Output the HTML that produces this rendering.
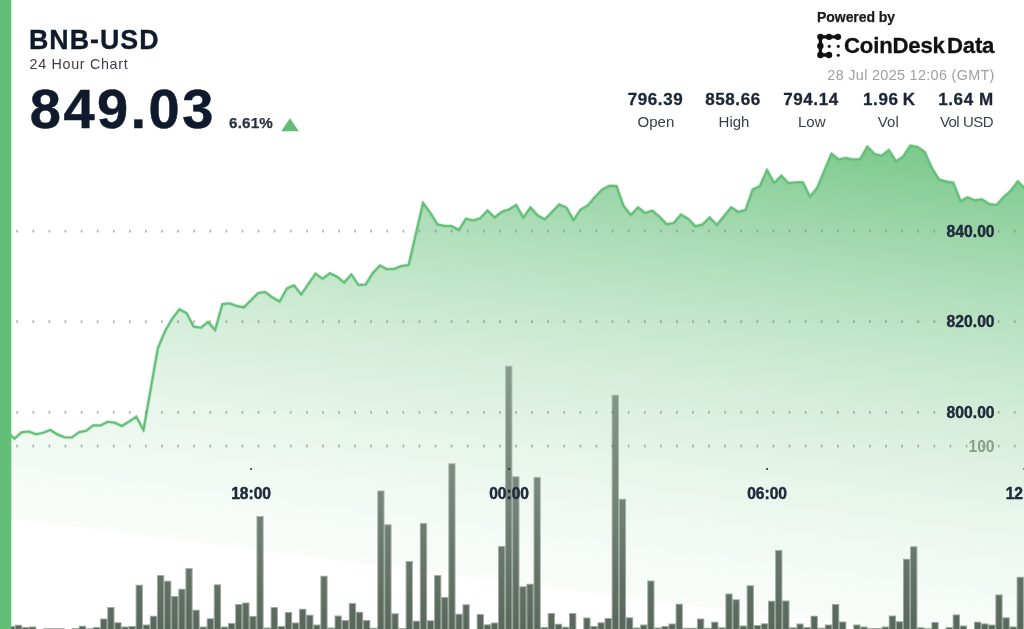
<!DOCTYPE html>
<html>
<head>
<meta charset="utf-8">
<title>BNB-USD 24 Hour Chart</title>
<style>
html,body{margin:0;padding:0;}
body{width:1024px;height:629px;overflow:hidden;background:#fff;position:relative;font-family:"Liberation Sans",sans-serif;color:#0f1b2d;}
#chart{position:absolute;left:0;top:0;width:1024px;height:629px;}
.t{position:absolute;white-space:nowrap;line-height:1;}
#title{left:29px;top:27.2px;font-size:26.8px;font-weight:bold;letter-spacing:1.0px;-webkit-text-stroke:0.35px #0f1b2d;}
#sub{left:29.5px;top:57px;font-size:14.3px;letter-spacing:0.7px;color:#3a3f46;}
#price{left:29.8px;top:80.9px;font-size:56px;font-weight:bold;letter-spacing:2.45px;-webkit-text-stroke:0.5px #0f1b2d;}
#pct{left:229px;top:115.2px;font-size:15.2px;font-weight:bold;letter-spacing:0.2px;color:#2a3140;-webkit-text-stroke:0.25px #2a3140;}
#pow{left:817px;top:9.6px;font-size:14px;font-weight:bold;color:#1c1c1c;-webkit-text-stroke:0.25px #1c1c1c;letter-spacing:-0.05px;}
#brand{left:844px;top:35px;font-size:22.2px;font-weight:bold;color:#111;letter-spacing:-0.2px;-webkit-text-stroke:0.3px #111;}
#brand span{margin-left:2.2px;}
#date{right:29.3px;top:67.6px;font-size:14.4px;letter-spacing:0.32px;color:#a0a0a0;}
.sv{font-size:17px;font-weight:bold;letter-spacing:0.6px;top:91.2px;transform:translateX(-50%);color:#1b2536;-webkit-text-stroke:0.3px #1b2536;}
.sl{font-size:15px;top:114.2px;transform:translateX(-50%);color:#3a3f46;}
</style>
</head>
<body><div id="wrap" style="position:absolute;left:0;top:0;width:1024px;height:629px;will-change:transform;">
<svg id="chart" width="1024" height="629" viewBox="0 0 1024 629">
  <defs>
    <linearGradient id="g" gradientUnits="userSpaceOnUse" x1="905" y1="140" x2="842.03" y2="631.94"><stop offset="0.0000" stop-color="#62be76" stop-opacity="0.820"/><stop offset="0.0400" stop-color="#62be76" stop-opacity="0.804"/><stop offset="0.0800" stop-color="#62be76" stop-opacity="0.751"/><stop offset="0.1200" stop-color="#62be76" stop-opacity="0.700"/><stop offset="0.1600" stop-color="#62be76" stop-opacity="0.651"/><stop offset="0.2000" stop-color="#62be76" stop-opacity="0.604"/><stop offset="0.2400" stop-color="#62be76" stop-opacity="0.558"/><stop offset="0.2800" stop-color="#62be76" stop-opacity="0.514"/><stop offset="0.3200" stop-color="#62be76" stop-opacity="0.473"/><stop offset="0.3600" stop-color="#62be76" stop-opacity="0.432"/><stop offset="0.4000" stop-color="#62be76" stop-opacity="0.394"/><stop offset="0.4400" stop-color="#62be76" stop-opacity="0.357"/><stop offset="0.4800" stop-color="#62be76" stop-opacity="0.323"/><stop offset="0.5200" stop-color="#62be76" stop-opacity="0.289"/><stop offset="0.5600" stop-color="#62be76" stop-opacity="0.258"/><stop offset="0.6000" stop-color="#62be76" stop-opacity="0.229"/><stop offset="0.6400" stop-color="#62be76" stop-opacity="0.201"/><stop offset="0.6800" stop-color="#62be76" stop-opacity="0.175"/><stop offset="0.7200" stop-color="#62be76" stop-opacity="0.151"/><stop offset="0.7600" stop-color="#62be76" stop-opacity="0.129"/><stop offset="0.8000" stop-color="#62be76" stop-opacity="0.108"/><stop offset="0.8400" stop-color="#62be76" stop-opacity="0.089"/><stop offset="0.8800" stop-color="#62be76" stop-opacity="0.072"/><stop offset="0.9200" stop-color="#62be76" stop-opacity="0.057"/><stop offset="0.9600" stop-color="#62be76" stop-opacity="0.044"/><stop offset="0.9860" stop-color="#62be76" stop-opacity="0.036"/><stop offset="0.9860" stop-color="#62be76" stop-opacity="0.000"/><stop offset="1.0000" stop-color="#62be76" stop-opacity="0.000"/></linearGradient>
    <linearGradient id="bg1" gradientUnits="userSpaceOnUse" x1="0" y1="360" x2="0" y2="629"><stop offset="0" stop-color="#3c4e40" stop-opacity="0.294"/><stop offset="1" stop-color="#3c4e40" stop-opacity="0.498"/></linearGradient>
    <linearGradient id="bg2" gradientUnits="userSpaceOnUse" x1="0" y1="360" x2="0" y2="629"><stop offset="0" stop-color="#3c4e40" stop-opacity="0.30"/><stop offset="0.5" stop-color="#3c4e40" stop-opacity="0.47"/><stop offset="1" stop-color="#3c4e40" stop-opacity="0.71"/></linearGradient>
    <clipPath id="cp"><rect x="11" y="0" width="1013" height="629"/></clipPath>
  </defs>
  <g clip-path="url(#cp)">
    <path d="M7.33 432.5 L14.5 438.6 L21.67 432.2 L28.83 431.5 L36 434.25 L43.17 432.75 L50.33 430 L57.5 434.5 L64.67 437.25 L71.83 437.5 L79 432.25 L86.17 430.75 L93.33 425.25 L100.5 425.5 L107.67 421.75 L114.83 422.75 L122 426 L129.17 421.4 L136.33 416.75 L143.5 430 L150.67 389 L157.83 348.25 L165 331.25 L172.17 318.75 L179.33 309.25 L186.5 313 L193.67 326.5 L200.83 327.75 L208 322 L215.17 330 L222.33 304.25 L229.5 303.25 L236.67 306 L243.83 307.3 L251 300.25 L258.17 293 L265.33 292 L272.5 297.5 L279.67 301.5 L286.83 288.5 L294 285.25 L301.17 294.5 L308.33 284 L315.5 273.75 L322.67 278.75 L329.83 273.25 L337 276.75 L344.17 282.5 L351.33 274.5 L358.5 285 L365.67 284.5 L372.83 273 L380 265.5 L387.17 269.25 L394.34 268.75 L401.5 266 L408.67 265 L415.84 234 L423 203 L430.17 212.5 L437.34 224.25 L444.5 226 L451.67 226 L458.84 230 L466 218.75 L473.17 220.5 L480.34 218.2 L487.5 210.5 L494.67 217.5 L501.84 211.75 L509 209.5 L516.17 205 L523.34 217.5 L530.5 207.5 L537.67 215.5 L544.84 219.5 L552 212 L559.17 204.5 L566.34 207.5 L573.5 220 L580.67 209.5 L587.84 205.5 L595 197 L602.17 189.5 L609.34 185.75 L616.5 186 L623.67 206.25 L630.84 215 L638 207.5 L645.17 213 L652.34 210.75 L659.5 216.75 L666.67 224.25 L673.84 223 L681 214.5 L688.17 218.75 L695.34 226.25 L702.5 224.5 L709.67 217.5 L716.84 225 L724 216.25 L731.17 207.3 L738.34 212 L745.5 210 L752.67 189.5 L759.84 186.25 L767 170 L774.17 183 L781.34 175.75 L788.5 183.25 L795.67 182.25 L802.84 182.25 L810 196.75 L817.17 188 L824.34 170.75 L831.5 153.75 L838.67 159.5 L845.84 158 L853 159.5 L860.17 159 L867.34 146.75 L874.5 154 L881.67 155.75 L888.84 150 L896 161.3 L903.17 156.5 L910.34 145.6 L917.5 147.1 L924.67 152 L931.84 168 L939 179.6 L946.17 181.6 L953.34 182.7 L960.5 201.1 L967.67 197.3 L974.84 200.4 L982 199.3 L989.17 204.1 L996.34 205.1 L1003.5 197.2 L1010.67 190.9 L1017.84 181.3 L1025 188.5 L1025 640 L7.33 640 Z" fill="url(#g)"/>
    <path d="M7.33 432.5 L14.5 438.6 L21.67 432.2 L28.83 431.5 L36 434.25 L43.17 432.75 L50.33 430 L57.5 434.5 L64.67 437.25 L71.83 437.5 L79 432.25 L86.17 430.75 L93.33 425.25 L100.5 425.5 L107.67 421.75 L114.83 422.75 L122 426 L129.17 421.4 L136.33 416.75 L143.5 430 L150.67 389 L157.83 348.25 L165 331.25 L172.17 318.75 L179.33 309.25 L186.5 313 L193.67 326.5 L200.83 327.75 L208 322 L215.17 330 L222.33 304.25 L229.5 303.25 L236.67 306 L243.83 307.3 L251 300.25 L258.17 293 L265.33 292 L272.5 297.5 L279.67 301.5 L286.83 288.5 L294 285.25 L301.17 294.5 L308.33 284 L315.5 273.75 L322.67 278.75 L329.83 273.25 L337 276.75 L344.17 282.5 L351.33 274.5 L358.5 285 L365.67 284.5 L372.83 273 L380 265.5 L387.17 269.25 L394.34 268.75 L401.5 266 L408.67 265 L415.84 234 L423 203 L430.17 212.5 L437.34 224.25 L444.5 226 L451.67 226 L458.84 230 L466 218.75 L473.17 220.5 L480.34 218.2 L487.5 210.5 L494.67 217.5 L501.84 211.75 L509 209.5 L516.17 205 L523.34 217.5 L530.5 207.5 L537.67 215.5 L544.84 219.5 L552 212 L559.17 204.5 L566.34 207.5 L573.5 220 L580.67 209.5 L587.84 205.5 L595 197 L602.17 189.5 L609.34 185.75 L616.5 186 L623.67 206.25 L630.84 215 L638 207.5 L645.17 213 L652.34 210.75 L659.5 216.75 L666.67 224.25 L673.84 223 L681 214.5 L688.17 218.75 L695.34 226.25 L702.5 224.5 L709.67 217.5 L716.84 225 L724 216.25 L731.17 207.3 L738.34 212 L745.5 210 L752.67 189.5 L759.84 186.25 L767 170 L774.17 183 L781.34 175.75 L788.5 183.25 L795.67 182.25 L802.84 182.25 L810 196.75 L817.17 188 L824.34 170.75 L831.5 153.75 L838.67 159.5 L845.84 158 L853 159.5 L860.17 159 L867.34 146.75 L874.5 154 L881.67 155.75 L888.84 150 L896 161.3 L903.17 156.5 L910.34 145.6 L917.5 147.1 L924.67 152 L931.84 168 L939 179.6 L946.17 181.6 L953.34 182.7 L960.5 201.1 L967.67 197.3 L974.84 200.4 L982 199.3 L989.17 204.1 L996.34 205.1 L1003.5 197.2 L1010.67 190.9 L1017.84 181.3 L1025 188.5" fill="none" stroke="#62bd76" stroke-width="3.6" stroke-linejoin="round" stroke-opacity="0.32"/>
    <path d="M7.33 432.5 L14.5 438.6 L21.67 432.2 L28.83 431.5 L36 434.25 L43.17 432.75 L50.33 430 L57.5 434.5 L64.67 437.25 L71.83 437.5 L79 432.25 L86.17 430.75 L93.33 425.25 L100.5 425.5 L107.67 421.75 L114.83 422.75 L122 426 L129.17 421.4 L136.33 416.75 L143.5 430 L150.67 389 L157.83 348.25 L165 331.25 L172.17 318.75 L179.33 309.25 L186.5 313 L193.67 326.5 L200.83 327.75 L208 322 L215.17 330 L222.33 304.25 L229.5 303.25 L236.67 306 L243.83 307.3 L251 300.25 L258.17 293 L265.33 292 L272.5 297.5 L279.67 301.5 L286.83 288.5 L294 285.25 L301.17 294.5 L308.33 284 L315.5 273.75 L322.67 278.75 L329.83 273.25 L337 276.75 L344.17 282.5 L351.33 274.5 L358.5 285 L365.67 284.5 L372.83 273 L380 265.5 L387.17 269.25 L394.34 268.75 L401.5 266 L408.67 265 L415.84 234 L423 203 L430.17 212.5 L437.34 224.25 L444.5 226 L451.67 226 L458.84 230 L466 218.75 L473.17 220.5 L480.34 218.2 L487.5 210.5 L494.67 217.5 L501.84 211.75 L509 209.5 L516.17 205 L523.34 217.5 L530.5 207.5 L537.67 215.5 L544.84 219.5 L552 212 L559.17 204.5 L566.34 207.5 L573.5 220 L580.67 209.5 L587.84 205.5 L595 197 L602.17 189.5 L609.34 185.75 L616.5 186 L623.67 206.25 L630.84 215 L638 207.5 L645.17 213 L652.34 210.75 L659.5 216.75 L666.67 224.25 L673.84 223 L681 214.5 L688.17 218.75 L695.34 226.25 L702.5 224.5 L709.67 217.5 L716.84 225 L724 216.25 L731.17 207.3 L738.34 212 L745.5 210 L752.67 189.5 L759.84 186.25 L767 170 L774.17 183 L781.34 175.75 L788.5 183.25 L795.67 182.25 L802.84 182.25 L810 196.75 L817.17 188 L824.34 170.75 L831.5 153.75 L838.67 159.5 L845.84 158 L853 159.5 L860.17 159 L867.34 146.75 L874.5 154 L881.67 155.75 L888.84 150 L896 161.3 L903.17 156.5 L910.34 145.6 L917.5 147.1 L924.67 152 L931.84 168 L939 179.6 L946.17 181.6 L953.34 182.7 L960.5 201.1 L967.67 197.3 L974.84 200.4 L982 199.3 L989.17 204.1 L996.34 205.1 L1003.5 197.2 L1010.67 190.9 L1017.84 181.3 L1025 188.5" fill="none" stroke="#64c079" stroke-width="2.1" stroke-linejoin="miter"/>
    <g stroke="#79837c" stroke-width="2.8" stroke-dasharray="1.7 14.39" fill="none" opacity="0.58">
      <path d="M16.35 231.1H1024"/>
      <path d="M16.35 321.6H1024"/>
      <path d="M16.35 412.4H1024"/>
      <path d="M16.35 446.1H1024"/>
    </g>
    <g>
<g fill="url(#bg1)">
<rect x="7.73" y="626" width="7.3" height="13.5"/>
<rect x="14.84" y="624.75" width="7.3" height="14.75"/>
<rect x="21.95" y="627" width="7.3" height="12.5"/>
<rect x="29.05" y="626.5" width="7.3" height="13"/>
<rect x="43.26" y="628.1" width="7.3" height="11.4"/>
<rect x="50.37" y="628.1" width="7.3" height="11.4"/>
<rect x="57.47" y="628.1" width="7.3" height="11.4"/>
<rect x="71.68" y="628" width="7.3" height="11.5"/>
<rect x="78.78" y="625.75" width="7.3" height="13.75"/>
<rect x="85.89" y="628.2" width="7.3" height="11.3"/>
<rect x="92.99" y="627" width="7.3" height="12.5"/>
<rect x="100.1" y="618.5" width="7.3" height="21"/>
<rect x="107.2" y="607" width="7.3" height="32.5"/>
<rect x="114.31" y="622.25" width="7.3" height="17.25"/>
<rect x="121.41" y="626.5" width="7.3" height="13"/>
<rect x="128.52" y="626" width="7.3" height="13.5"/>
<rect x="135.62" y="584.75" width="7.3" height="54.75"/>
<rect x="142.73" y="624.5" width="7.3" height="15"/>
<rect x="149.84" y="615.75" width="7.3" height="23.75"/>
<rect x="156.94" y="575" width="7.3" height="64.5"/>
<rect x="164.05" y="580.75" width="7.3" height="58.75"/>
<rect x="171.15" y="596" width="7.3" height="43.5"/>
<rect x="178.26" y="588.75" width="7.3" height="50.75"/>
<rect x="185.36" y="568" width="7.3" height="71.5"/>
<rect x="192.47" y="609.75" width="7.3" height="29.75"/>
<rect x="199.57" y="626.5" width="7.3" height="13"/>
<rect x="206.68" y="618.25" width="7.3" height="21.25"/>
<rect x="213.78" y="584.25" width="7.3" height="55.25"/>
<rect x="220.89" y="626.5" width="7.3" height="13"/>
<rect x="227.99" y="623" width="7.3" height="16.5"/>
<rect x="235.1" y="604" width="7.3" height="35.5"/>
<rect x="242.2" y="602.5" width="7.3" height="37"/>
<rect x="249.31" y="615.9" width="7.3" height="23.6"/>
<rect x="256.41" y="516" width="7.3" height="123.5"/>
<rect x="263.52" y="627.5" width="7.3" height="12"/>
<rect x="270.62" y="607" width="7.3" height="32.5"/>
<rect x="277.73" y="626" width="7.3" height="13.5"/>
<rect x="284.83" y="612" width="7.3" height="27.5"/>
<rect x="291.94" y="622.5" width="7.3" height="17"/>
<rect x="299.04" y="608.75" width="7.3" height="30.75"/>
<rect x="306.15" y="614.75" width="7.3" height="24.75"/>
<rect x="313.25" y="624.5" width="7.3" height="15"/>
<rect x="320.36" y="575.75" width="7.3" height="63.75"/>
<rect x="327.46" y="627.5" width="7.3" height="12"/>
<rect x="334.57" y="615.5" width="7.3" height="24"/>
<rect x="341.67" y="620" width="7.3" height="19.5"/>
<rect x="348.78" y="603" width="7.3" height="36.5"/>
<rect x="355.88" y="611.75" width="7.3" height="27.75"/>
<rect x="362.99" y="620" width="7.3" height="19.5"/>
<rect x="370.09" y="627.75" width="7.3" height="11.75"/>
<rect x="377.2" y="490.5" width="7.3" height="149"/>
<rect x="384.3" y="524.25" width="7.3" height="115.25"/>
<rect x="391.41" y="613.25" width="7.3" height="26.25"/>
<rect x="398.51" y="628" width="7.3" height="11.5"/>
<rect x="405.62" y="561" width="7.3" height="78.5"/>
<rect x="412.72" y="620.75" width="7.3" height="18.75"/>
<rect x="419.83" y="523" width="7.3" height="116.5"/>
<rect x="426.93" y="620.25" width="7.3" height="19.25"/>
<rect x="434.04" y="575" width="7.3" height="64.5"/>
<rect x="441.14" y="597" width="7.3" height="42.5"/>
<rect x="448.25" y="463.25" width="7.3" height="176.25"/>
<rect x="455.35" y="613.75" width="7.3" height="25.75"/>
<rect x="462.46" y="604.25" width="7.3" height="35.25"/>
<rect x="476.67" y="614" width="7.3" height="25.5"/>
<rect x="483.77" y="624.25" width="7.3" height="15.25"/>
<rect x="490.88" y="622.5" width="7.3" height="17"/>
<rect x="497.98" y="546" width="7.3" height="93.5"/>
<rect x="505.09" y="365.75" width="7.3" height="273.75"/>
<rect x="512.19" y="476.25" width="7.3" height="163.25"/>
<rect x="519.3" y="586.25" width="7.3" height="53.25"/>
<rect x="526.4" y="583.75" width="7.3" height="55.75"/>
<rect x="533.51" y="476.9" width="7.3" height="162.6"/>
<rect x="540.61" y="627" width="7.3" height="12.5"/>
<rect x="547.72" y="613" width="7.3" height="26.5"/>
<rect x="554.82" y="623.75" width="7.3" height="15.75"/>
<rect x="561.93" y="626.75" width="7.3" height="12.75"/>
<rect x="569.03" y="613" width="7.3" height="26.5"/>
<rect x="583.24" y="617.5" width="7.3" height="22"/>
<rect x="590.35" y="626" width="7.3" height="13.5"/>
<rect x="597.45" y="622.25" width="7.3" height="17.25"/>
<rect x="604.56" y="618" width="7.3" height="21.5"/>
<rect x="611.66" y="394.75" width="7.3" height="244.75"/>
<rect x="618.77" y="498.75" width="7.3" height="140.75"/>
<rect x="625.87" y="617.25" width="7.3" height="22.25"/>
<rect x="632.98" y="627.5" width="7.3" height="12"/>
<rect x="640.08" y="624.5" width="7.3" height="15"/>
<rect x="647.19" y="580.5" width="7.3" height="59"/>
<rect x="654.29" y="627.5" width="7.3" height="12"/>
<rect x="661.4" y="626" width="7.3" height="13.5"/>
<rect x="668.5" y="623.5" width="7.3" height="16"/>
<rect x="675.61" y="603.75" width="7.3" height="35.75"/>
<rect x="682.71" y="627.75" width="7.3" height="11.75"/>
<rect x="689.82" y="627.75" width="7.3" height="11.75"/>
<rect x="696.92" y="618.5" width="7.3" height="21"/>
<rect x="704.03" y="627.75" width="7.3" height="11.75"/>
<rect x="711.13" y="621.75" width="7.3" height="17.75"/>
<rect x="718.24" y="627.25" width="7.3" height="12.25"/>
<rect x="725.34" y="593.5" width="7.3" height="46"/>
<rect x="732.45" y="599.25" width="7.3" height="40.25"/>
<rect x="739.55" y="625.5" width="7.3" height="14"/>
<rect x="746.66" y="585.25" width="7.3" height="54.25"/>
<rect x="753.76" y="625" width="7.3" height="14.5"/>
<rect x="760.87" y="623.25" width="7.3" height="16.25"/>
<rect x="767.97" y="600.75" width="7.3" height="38.75"/>
<rect x="775.08" y="550" width="7.3" height="89.5"/>
<rect x="782.18" y="600.5" width="7.3" height="39"/>
<rect x="789.29" y="627.25" width="7.3" height="12.25"/>
<rect x="796.39" y="623.5" width="7.3" height="16"/>
<rect x="803.5" y="627" width="7.3" height="12.5"/>
<rect x="810.6" y="615.75" width="7.3" height="23.75"/>
<rect x="817.71" y="627.75" width="7.3" height="11.75"/>
<rect x="824.81" y="624.5" width="7.3" height="15"/>
<rect x="831.92" y="604" width="7.3" height="35.5"/>
<rect x="839.02" y="621.5" width="7.3" height="18"/>
<rect x="853.23" y="624.5" width="7.3" height="15"/>
<rect x="860.34" y="626.5" width="7.3" height="13"/>
<rect x="867.44" y="628" width="7.3" height="11.5"/>
<rect x="874.55" y="628" width="7.3" height="11.5"/>
<rect x="881.65" y="626.5" width="7.3" height="13"/>
<rect x="888.76" y="615.5" width="7.3" height="24"/>
<rect x="895.86" y="621.2" width="7.3" height="18.3"/>
<rect x="902.97" y="558.8" width="7.3" height="80.7"/>
<rect x="910.07" y="546.25" width="7.3" height="93.25"/>
<rect x="917.18" y="627.2" width="7.3" height="12.3"/>
<rect x="924.28" y="628.1" width="7.3" height="11.4"/>
<rect x="931.39" y="622" width="7.3" height="17.5"/>
<rect x="945.6" y="627.1" width="7.3" height="12.4"/>
<rect x="952.7" y="614.4" width="7.3" height="25.1"/>
<rect x="959.81" y="625.5" width="7.3" height="14"/>
<rect x="974.02" y="621.7" width="7.3" height="17.8"/>
<rect x="981.12" y="623.4" width="7.3" height="16.1"/>
<rect x="988.23" y="624.6" width="7.3" height="14.9"/>
<rect x="995.33" y="594.5" width="7.3" height="45"/>
<rect x="1002.44" y="617.3" width="7.3" height="22.2"/>
<rect x="1009.54" y="626.4" width="7.3" height="13.1"/>
<rect x="1016.65" y="576.8" width="7.3" height="62.7"/>
</g>
<g fill="url(#bg2)">
<rect x="8.73" y="627" width="5.3" height="13.5"/>
<rect x="15.84" y="625.75" width="5.3" height="14.75"/>
<rect x="22.95" y="628" width="5.3" height="12.5"/>
<rect x="30.05" y="627.5" width="5.3" height="13"/>
<rect x="44.26" y="629.1" width="5.3" height="11.4"/>
<rect x="51.37" y="629.1" width="5.3" height="11.4"/>
<rect x="58.47" y="629.1" width="5.3" height="11.4"/>
<rect x="72.68" y="629" width="5.3" height="11.5"/>
<rect x="79.78" y="626.75" width="5.3" height="13.75"/>
<rect x="86.89" y="629.2" width="5.3" height="11.3"/>
<rect x="93.99" y="628" width="5.3" height="12.5"/>
<rect x="101.1" y="619.5" width="5.3" height="21"/>
<rect x="108.2" y="608" width="5.3" height="32.5"/>
<rect x="115.31" y="623.25" width="5.3" height="17.25"/>
<rect x="122.41" y="627.5" width="5.3" height="13"/>
<rect x="129.52" y="627" width="5.3" height="13.5"/>
<rect x="136.62" y="585.75" width="5.3" height="54.75"/>
<rect x="143.73" y="625.5" width="5.3" height="15"/>
<rect x="150.84" y="616.75" width="5.3" height="23.75"/>
<rect x="157.94" y="576" width="5.3" height="64.5"/>
<rect x="165.05" y="581.75" width="5.3" height="58.75"/>
<rect x="172.15" y="597" width="5.3" height="43.5"/>
<rect x="179.26" y="589.75" width="5.3" height="50.75"/>
<rect x="186.36" y="569" width="5.3" height="71.5"/>
<rect x="193.47" y="610.75" width="5.3" height="29.75"/>
<rect x="200.57" y="627.5" width="5.3" height="13"/>
<rect x="207.68" y="619.25" width="5.3" height="21.25"/>
<rect x="214.78" y="585.25" width="5.3" height="55.25"/>
<rect x="221.89" y="627.5" width="5.3" height="13"/>
<rect x="228.99" y="624" width="5.3" height="16.5"/>
<rect x="236.1" y="605" width="5.3" height="35.5"/>
<rect x="243.2" y="603.5" width="5.3" height="37"/>
<rect x="250.31" y="616.9" width="5.3" height="23.6"/>
<rect x="257.41" y="517" width="5.3" height="123.5"/>
<rect x="264.52" y="628.5" width="5.3" height="12"/>
<rect x="271.62" y="608" width="5.3" height="32.5"/>
<rect x="278.73" y="627" width="5.3" height="13.5"/>
<rect x="285.83" y="613" width="5.3" height="27.5"/>
<rect x="292.94" y="623.5" width="5.3" height="17"/>
<rect x="300.04" y="609.75" width="5.3" height="30.75"/>
<rect x="307.15" y="615.75" width="5.3" height="24.75"/>
<rect x="314.25" y="625.5" width="5.3" height="15"/>
<rect x="321.36" y="576.75" width="5.3" height="63.75"/>
<rect x="328.46" y="628.5" width="5.3" height="12"/>
<rect x="335.57" y="616.5" width="5.3" height="24"/>
<rect x="342.67" y="621" width="5.3" height="19.5"/>
<rect x="349.78" y="604" width="5.3" height="36.5"/>
<rect x="356.88" y="612.75" width="5.3" height="27.75"/>
<rect x="363.99" y="621" width="5.3" height="19.5"/>
<rect x="371.09" y="628.75" width="5.3" height="11.75"/>
<rect x="378.2" y="491.5" width="5.3" height="149"/>
<rect x="385.3" y="525.25" width="5.3" height="115.25"/>
<rect x="392.41" y="614.25" width="5.3" height="26.25"/>
<rect x="399.51" y="629" width="5.3" height="11.5"/>
<rect x="406.62" y="562" width="5.3" height="78.5"/>
<rect x="413.72" y="621.75" width="5.3" height="18.75"/>
<rect x="420.83" y="524" width="5.3" height="116.5"/>
<rect x="427.93" y="621.25" width="5.3" height="19.25"/>
<rect x="435.04" y="576" width="5.3" height="64.5"/>
<rect x="442.14" y="598" width="5.3" height="42.5"/>
<rect x="449.25" y="464.25" width="5.3" height="176.25"/>
<rect x="456.35" y="614.75" width="5.3" height="25.75"/>
<rect x="463.46" y="605.25" width="5.3" height="35.25"/>
<rect x="477.67" y="615" width="5.3" height="25.5"/>
<rect x="484.77" y="625.25" width="5.3" height="15.25"/>
<rect x="491.88" y="623.5" width="5.3" height="17"/>
<rect x="498.98" y="547" width="5.3" height="93.5"/>
<rect x="506.09" y="366.75" width="5.3" height="273.75"/>
<rect x="513.19" y="477.25" width="5.3" height="163.25"/>
<rect x="520.3" y="587.25" width="5.3" height="53.25"/>
<rect x="527.4" y="584.75" width="5.3" height="55.75"/>
<rect x="534.51" y="477.9" width="5.3" height="162.6"/>
<rect x="541.61" y="628" width="5.3" height="12.5"/>
<rect x="548.72" y="614" width="5.3" height="26.5"/>
<rect x="555.82" y="624.75" width="5.3" height="15.75"/>
<rect x="562.93" y="627.75" width="5.3" height="12.75"/>
<rect x="570.03" y="614" width="5.3" height="26.5"/>
<rect x="584.24" y="618.5" width="5.3" height="22"/>
<rect x="591.35" y="627" width="5.3" height="13.5"/>
<rect x="598.45" y="623.25" width="5.3" height="17.25"/>
<rect x="605.56" y="619" width="5.3" height="21.5"/>
<rect x="612.66" y="395.75" width="5.3" height="244.75"/>
<rect x="619.77" y="499.75" width="5.3" height="140.75"/>
<rect x="626.87" y="618.25" width="5.3" height="22.25"/>
<rect x="633.98" y="628.5" width="5.3" height="12"/>
<rect x="641.08" y="625.5" width="5.3" height="15"/>
<rect x="648.19" y="581.5" width="5.3" height="59"/>
<rect x="655.29" y="628.5" width="5.3" height="12"/>
<rect x="662.4" y="627" width="5.3" height="13.5"/>
<rect x="669.5" y="624.5" width="5.3" height="16"/>
<rect x="676.61" y="604.75" width="5.3" height="35.75"/>
<rect x="683.71" y="628.75" width="5.3" height="11.75"/>
<rect x="690.82" y="628.75" width="5.3" height="11.75"/>
<rect x="697.92" y="619.5" width="5.3" height="21"/>
<rect x="705.03" y="628.75" width="5.3" height="11.75"/>
<rect x="712.13" y="622.75" width="5.3" height="17.75"/>
<rect x="719.24" y="628.25" width="5.3" height="12.25"/>
<rect x="726.34" y="594.5" width="5.3" height="46"/>
<rect x="733.45" y="600.25" width="5.3" height="40.25"/>
<rect x="740.55" y="626.5" width="5.3" height="14"/>
<rect x="747.66" y="586.25" width="5.3" height="54.25"/>
<rect x="754.76" y="626" width="5.3" height="14.5"/>
<rect x="761.87" y="624.25" width="5.3" height="16.25"/>
<rect x="768.97" y="601.75" width="5.3" height="38.75"/>
<rect x="776.08" y="551" width="5.3" height="89.5"/>
<rect x="783.18" y="601.5" width="5.3" height="39"/>
<rect x="790.29" y="628.25" width="5.3" height="12.25"/>
<rect x="797.39" y="624.5" width="5.3" height="16"/>
<rect x="804.5" y="628" width="5.3" height="12.5"/>
<rect x="811.6" y="616.75" width="5.3" height="23.75"/>
<rect x="818.71" y="628.75" width="5.3" height="11.75"/>
<rect x="825.81" y="625.5" width="5.3" height="15"/>
<rect x="832.92" y="605" width="5.3" height="35.5"/>
<rect x="840.02" y="622.5" width="5.3" height="18"/>
<rect x="854.23" y="625.5" width="5.3" height="15"/>
<rect x="861.34" y="627.5" width="5.3" height="13"/>
<rect x="868.44" y="629" width="5.3" height="11.5"/>
<rect x="875.55" y="629" width="5.3" height="11.5"/>
<rect x="882.65" y="627.5" width="5.3" height="13"/>
<rect x="889.76" y="616.5" width="5.3" height="24"/>
<rect x="896.86" y="622.2" width="5.3" height="18.3"/>
<rect x="903.97" y="559.8" width="5.3" height="80.7"/>
<rect x="911.07" y="547.25" width="5.3" height="93.25"/>
<rect x="918.18" y="628.2" width="5.3" height="12.3"/>
<rect x="925.28" y="629.1" width="5.3" height="11.4"/>
<rect x="932.39" y="623" width="5.3" height="17.5"/>
<rect x="946.6" y="628.1" width="5.3" height="12.4"/>
<rect x="953.7" y="615.4" width="5.3" height="25.1"/>
<rect x="960.81" y="626.5" width="5.3" height="14"/>
<rect x="975.02" y="622.7" width="5.3" height="17.8"/>
<rect x="982.12" y="624.4" width="5.3" height="16.1"/>
<rect x="989.23" y="625.6" width="5.3" height="14.9"/>
<rect x="996.33" y="595.5" width="5.3" height="45"/>
<rect x="1003.44" y="618.3" width="5.3" height="22.2"/>
<rect x="1010.54" y="627.4" width="5.3" height="13.1"/>
<rect x="1017.65" y="577.8" width="5.3" height="62.7"/>
</g>
    </g>
    <g fill="#1b2536">
      <rect x="250.2" y="468.2" width="1.8" height="1.6"/>
      <rect x="508.2" y="468.2" width="1.8" height="1.6"/>
      <rect x="766.2" y="468.2" width="1.8" height="1.6"/>
      <rect x="1023.4" y="468.2" width="1.8" height="1.6"/>
    </g>
    <g font-family="Liberation Sans, sans-serif" font-weight="bold" font-size="15.6" fill="#202a3c" stroke="#202a3c" stroke-width="0.45" text-anchor="middle">
      <text x="251.1" y="499.4">18:00</text>
      <text x="509.1" y="499.4">00:00</text>
      <text x="767.1" y="499.4">06:00</text>
      <text x="1025.6" y="499.4">12:00</text>
    </g>
    <g font-family="Liberation Sans, sans-serif" font-weight="bold" font-size="15.7" fill="#202a3c" stroke="#202a3c" stroke-width="0.4" text-anchor="end">
      <text x="994.6" y="236.6">840.00</text>
      <text x="994.6" y="327.2">820.00</text>
      <text x="994.6" y="418.1">800.00</text>
      <text x="994.6" y="451.8" fill="#86a089" stroke="none">100</text>
    </g>
  </g>
  <rect x="0" y="0" width="11.3" height="629" fill="#63be76"/>
  <!-- triangle -->
  <path d="M290 118.2L298.8 131.3H281.2Z" fill="#62bd76"/>
  <!-- logo -->
  <g fill="#111" stroke="#111" transform="translate(0.1 0.25)">
    <path d="M837.8 36.6H820.3V54.8H828.9" fill="none" stroke-width="3.4" stroke-linejoin="round" stroke-linecap="round"/>
    <g stroke="none">
      <circle cx="820.3" cy="36.6" r="3.2"/><circle cx="828.9" cy="36.6" r="3.2"/><circle cx="837.8" cy="36.6" r="3.2"/>
      <circle cx="820.3" cy="45.8" r="3.2"/><circle cx="820.3" cy="54.8" r="3.2"/><circle cx="828.9" cy="54.8" r="3.2"/>
      <circle cx="829.2" cy="46.1" r="1.55"/><circle cx="838.2" cy="46.1" r="1.55"/><circle cx="838.2" cy="55" r="1.55"/>
    </g>
  </g>
</svg>
<div class="t" id="title">BNB-USD</div>
<div class="t" id="sub">24 Hour Chart</div>
<div class="t" id="price">849.03</div>
<div class="t" id="pct">6.61%</div>
<div class="t" id="pow">Powered by</div>
<div class="t" id="brand">CoinDesk<span>Data</span></div>
<div class="t" id="date">28 Jul 2025 12:06 (GMT)</div>
<div class="t sv" style="left:655.5px">796.39</div>
<div class="t sv" style="left:733px">858.66</div>
<div class="t sv" style="left:811px">794.14</div>
<div class="t sv" style="left:889.3px;word-spacing:-1.2px">1.96 K</div>
<div class="t sv" style="left:966px">1.64 M</div>
<div class="t sl" style="left:655.9px">Open</div>
<div class="t sl" style="left:734px">High</div>
<div class="t sl" style="left:811.8px">Low</div>
<div class="t sl" style="left:888.3px">Vol</div>
<div class="t sl" style="left:966.4px;word-spacing:0.5px;letter-spacing:-0.6px">Vol USD</div>
</div></body>
</html>
